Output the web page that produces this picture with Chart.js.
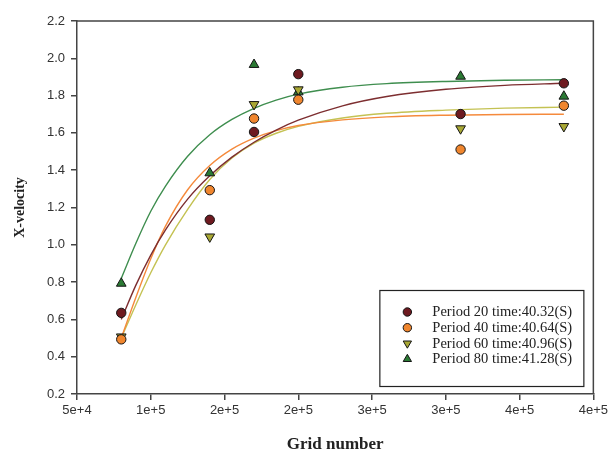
<!DOCTYPE html>
<html>
<head>
<meta charset="utf-8">
<script src="https://cdn.jsdelivr.net/npm/chart.js@4/dist/chart.umd.min.js"></script>
<style>
html,body{margin:0;padding:0;background:#fff;}
#wrap{width:611px;height:455px;position:relative;}
</style>
</head>
<body>
<div id="wrap"><canvas id="c" width="611" height="455"></canvas></div>
<script>
// ---- data ----
const gridX = [80000, 140000, 170000, 200000, 310000, 380000];
const p20 = [0.635, 1.134, 1.605, 1.915, 1.701, 1.866];
const p40 = [0.493, 1.293, 1.677, 1.778, 1.511, 1.746];
const p60 = [0.507, 1.043, 1.753, 1.832, 1.623, 1.635];
const p80 = [0.793, 1.385, 1.966, 1.819, 1.903, 1.796];

// fitted curves
const fitX   = [80000, 90000, 100000, 110000, 125000, 140000, 155000, 170000, 185000, 200000, 230000, 260000, 300000, 340000, 380000];
const fit20  = [0.60, 0.785, 0.945, 1.08, 1.245, 1.37, 1.47, 1.55, 1.615, 1.668, 1.745, 1.795, 1.834, 1.855, 1.866];
const fit40  = [0.50, 0.72, 0.925, 1.10, 1.295, 1.425, 1.513, 1.572, 1.612, 1.64, 1.670, 1.686, 1.695, 1.699, 1.70];
const fit60  = [0.50, 0.68, 0.85, 1.00, 1.19, 1.35, 1.465, 1.545, 1.598, 1.635, 1.68, 1.705, 1.722, 1.733, 1.738];
const fit80  = [0.82, 1.01, 1.18, 1.315, 1.475, 1.59, 1.672, 1.732, 1.776, 1.808, 1.845, 1.864, 1.876, 1.882, 1.885];

const labels = ['Period 20 time:40.32(S)', 'Period 40 time:40.64(S)', 'Period 60 time:40.96(S)', 'Period 80 time:41.28(S)'];
const xTicks = [50000, 100000, 150000, 200000, 250000, 300000, 350000, 400000];
const yTicks = [0.2, 0.4, 0.6, 0.8, 1.0, 1.2, 1.4, 1.6, 1.8, 2.0, 2.2];

// ---- styles ----
const markerFill = ['#6e1a20', '#f0862e', '#a9a834', '#2b7a34'];
const curveColor = ['#7d2e30', '#f58a3c', '#c4c253', '#3f8e4f'];
const markerStyle = ['circle', 'circle', 'triangle', 'triangle'];
const markerRot = [0, 0, 180, 0];
const pointSeries = [p20, p40, p60, p80];
const fitSeries = [fit20, fit40, fit60, fit80];

const toPts = (xs, ys) => xs.map((x, i) => ({x: x, y: ys[i]}));

const datasets = [];
pointSeries.forEach((s, i) => {
  datasets.push({
    label: labels[i],
    data: toPts(gridX, s),
    showLine: false,
    pointStyle: markerStyle[i],
    rotation: markerRot[i],
    pointRadius: markerStyle[i] === 'circle' ? 4.7 : 5.6,
    pointBackgroundColor: markerFill[i],
    pointBorderColor: '#151515',
    pointBorderWidth: 1
  });
});
fitSeries.forEach((s, i) => {
  datasets.push({
    label: 'fit ' + labels[i],
    data: toPts(fitX, s),
    showLine: true,
    borderColor: curveColor[i],
    borderWidth: 1.4,
    pointRadius: 0,
    cubicInterpolationMode: 'monotone',
    fill: false
  });
});

const framePlugin = {
  id: 'frame',
  afterDatasetsDraw(chart) {
    const a = chart.chartArea, ctx = chart.ctx;
    ctx.save();
    ctx.strokeStyle = '#444';
    ctx.lineWidth = 1.5;
    ctx.beginPath();
    ctx.moveTo(a.left, a.top);
    ctx.lineTo(a.right, a.top);
    ctx.lineTo(a.right, a.bottom);
    ctx.stroke();
    ctx.restore();
  }
};

const legendPlugin = {
  id: 'boxLegend',
  afterDraw(chart) {
    const a = chart.chartArea, ctx = chart.ctx;
    const w = 204, h = 96;
    const right = a.right - 10, bottom = a.bottom - 8;
    const left = right - w, top = bottom - h;
    ctx.save();
    ctx.fillStyle = '#fff';
    ctx.fillRect(left, top, w, h);
    ctx.strokeStyle = '#222';
    ctx.lineWidth = 1.2;
    ctx.strokeRect(left + 0.5, top + 0.5, w, h);
    ctx.font = '14.5px "Liberation Serif", "Times New Roman", serif';
    ctx.textBaseline = 'middle';
    ctx.textAlign = 'left';
    for (let i = 0; i < 4; i++) {
      const y = top + 22 + i * 15.7;
      ctx.fillStyle = markerFill[i];
      ctx.strokeStyle = '#151515';
      ctx.lineWidth = 1;
      Chart.helpers.drawPoint(ctx, {
        pointStyle: markerStyle[i],
        rotation: markerRot[i],
        radius: markerStyle[i] === 'circle' ? 4.2 : 4.8,
        borderWidth: 1
      }, left + 28, y);
      ctx.fillStyle = '#222';
      ctx.fillText(labels[i], left + 53, y + 0.5);
    }
    ctx.restore();
  }
};

new Chart(document.getElementById('c'), {
  type: 'scatter',
  data: {datasets: datasets},
  options: {
    responsive: false,
    animation: false,
    devicePixelRatio: 1,
    layout: {padding: {left: 0, right: 16, top: 21, bottom: 0}},
    plugins: {legend: {display: false}, tooltip: {enabled: false}},
    scales: {
      x: {
        type: 'linear',
        min: 50000, max: 400000,
        afterBuildTicks(scale) { scale.ticks = xTicks.map(v => ({value: v})); },
        afterFit(scale) { scale.height = 61; },
        ticks: {
          color: '#333',
          font: {family: '"Liberation Sans", Arial, sans-serif', size: 13},
          padding: 3,
          maxRotation: 0,
          autoSkip: false,
          callback: v => Number(v).toExponential(0)
        },
        grid: {display: true, drawOnChartArea: false, drawTicks: true, tickLength: 6, color: '#444', lineWidth: 1.5},
        border: {display: true, color: '#444', width: 1.5},
        title: {
          display: true,
          text: 'Grid number',
          color: '#222',
          font: {family: '"Liberation Serif", "Times New Roman", serif', size: 17, weight: 'bold'},
          padding: {top: 14, bottom: 0}
        }
      },
      y: {
        type: 'linear',
        min: 0.2, max: 2.2,
        afterBuildTicks(scale) { scale.ticks = yTicks.map(v => ({value: v})); },
        afterFit(scale) { scale.width = 77; },
        ticks: {
          color: '#333',
          font: {family: '"Liberation Sans", Arial, sans-serif', size: 13},
          padding: 6,
          autoSkip: false,
          callback: v => Number(v).toFixed(1)
        },
        grid: {display: true, drawOnChartArea: false, drawTicks: true, tickLength: 6, color: '#444', lineWidth: 1.5},
        border: {display: true, color: '#444', width: 1.5},
        title: {
          display: true,
          text: 'X-velocity',
          color: '#222',
          font: {family: '"Liberation Serif", "Times New Roman", serif', size: 14, weight: 'bold'},
          padding: {top: 12, bottom: 0}
        }
      }
    }
  },
  plugins: [framePlugin, legendPlugin]
});
</script>
</body>
</html>
